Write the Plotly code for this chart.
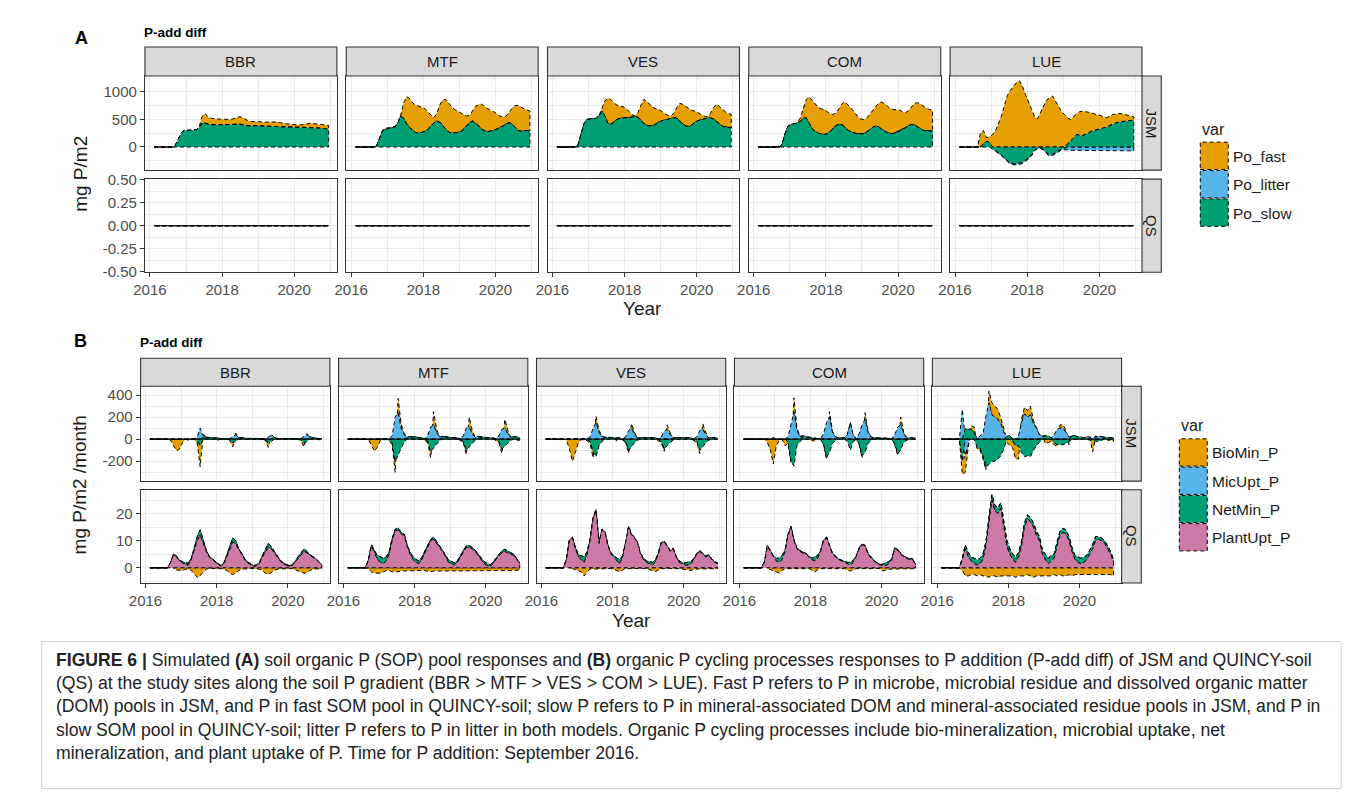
import plotly.graph_objects as go
import pandas as pd

W, H = 1355, 796
FONT = "Liberation Sans, Arial, sans-serif"

# ---------------- time axis (mid-month, Feb 2016 .. Dec 2020) ----------------
MONTHS = [d.strftime("%Y-%m-%d") for d in
          (pd.date_range("2016-02-01", "2020-12-01", freq="MS") + pd.Timedelta(days=14))]
SITES = ["BBR", "MTF", "VES", "COM", "LUE"]
MODELS = ["JSM", "QS"]
X_TICKS = ["2016-01-01", "2018-01-01", "2020-01-01"]
X_TICKTEXT = ["2016", "2018", "2020"]
X_MINOR = ["2015-01-01", "2017-01-01", "2019-01-01", "2021-01-01"]

A_VARS = ["Po_fast", "Po_litter", "Po_slow"]
B_VARS = ["BioMin_P", "MicUpt_P", "NetMin_P", "PlantUpt_P"]
COLORS = {"Po_fast": "#E69F00", "Po_litter": "#56B4E9", "Po_slow": "#009E73",
          "BioMin_P": "#E69F00", "MicUpt_P": "#56B4E9", "NetMin_P": "#009E73",
          "PlantUpt_P": "#CC79A7"}

ZERO = [0, 0, 0, 0, 0, 0, 0, 0, 0, 0, 0,
        0, 0, 0, 0, 0, 0, 0, 0, 0, 0, 0, 0,
        0, 0, 0, 0, 0, 0, 0, 0, 0, 0, 0, 0,
        0, 0, 0, 0, 0, 0, 0, 0, 0, 0, 0, 0,
        0, 0, 0, 0, 0, 0, 0, 0, 0, 0, 0, 0]

# ---------------- Panel A : soil organic P pools (mg P/m2), JSM ----------------
A_BBR_fast = [0, 0, 0, 0, 0, 0, 0, 0, 0, 0, 0,
              0, 0, 0, 0, 20, 130, 170, 130, 120, 120, 115, 105,
              100, 95, 90, 95, 110, 130, 135, 110, 95, 85, 80, 75,
              75, 75, 75, 75, 85, 90, 85, 75, 65, 60, 55, 50,
              45, 45, 50, 60, 75, 80, 75, 70, 70, 70, 75, 70]
A_BBR_slow = [0, 0, 0, 0, 0, 0, 0, 30, 150, 260, 300,
              300, 300, 300, 310, 350, 440, 430, 410, 400, 400, 395, 400,
              400, 405, 410, 410, 410, 415, 410, 395, 385, 380, 385, 385,
              380, 380, 375, 375, 370, 370, 370, 365, 360, 360, 360, 360,
              355, 355, 355, 355, 350, 350, 350, 345, 340, 340, 330, 320]
A_MTF_fast = [0, 0, 0, 0, 0, 0, 0, 0, 0, 10, 20,
              20, 20, 10, 0, 10, 280, 495, 530, 500, 500, 490, 470,
              420, 320, 200, 100, 130, 310, 460, 546, 530, 470, 425, 385,
              340, 260, 180, 140, 180, 310, 390, 455, 440, 410, 375, 340,
              280, 210, 170, 140, 180, 280, 390, 456, 435, 400, 370, 360]
A_MTF_slow = [0, 0, 0, 0, 0, 0, 0, 20, 150, 300, 320,
              330, 340, 360, 420, 560, 520, 420, 350, 300, 260, 250, 260,
              280, 320, 380, 430, 470, 450, 390, 320, 270, 250, 255, 265,
              280, 320, 380, 440, 470, 430, 380, 320, 290, 280, 285, 300,
              320, 350, 380, 420, 440, 420, 360, 300, 285, 290, 300, 290]
A_VES_fast = [0, 0, 0, 0, 0, 0, 0, 0, 0, 0, 0,
              0, 0, 0, 0, 50, 280, 455, 450, 350, 260, 220, 202,
              170, 110, 50, 1, 80, 280, 446, 430, 380, 335, 270, 223,
              160, 110, 70, 51, 90, 200, 323, 360, 350, 324, 260, 203,
              140, 90, 50, 29, 70, 190, 305, 320, 300, 280, 260, 244]
A_VES_slow = [0, 0, 0, 0, 0, 0, 0, 30, 200, 420, 500,
              510, 510, 520, 560, 650, 560, 430, 410, 450, 500, 520, 530,
              530, 530, 540, 560, 540, 480, 420, 390, 380, 385, 420, 460,
              480, 490, 500, 510, 530, 520, 470, 410, 380, 366, 400, 450,
              480, 500, 510, 520, 530, 510, 470, 420, 380, 360, 350, 348]
A_COM_fast = [0, 0, 0, 0, 0, 0, 0, 0, 0, 0, 0,
              0, 0, 10, 60, 180, 330, 489, 520, 500, 470, 455, 457,
              400, 320, 252, 230, 291, 390, 467, 460, 430, 390, 320, 275,
              260, 250, 270, 300, 342, 420, 487, 500, 480, 455, 436, 411,
              381, 320, 270, 280, 321, 390, 435, 450, 440, 410, 393, 384]
A_COM_slow = [0, 0, 0, 0, 0, 0, 0, 0, 50, 250, 380,
              409, 420, 430, 460, 520, 530, 420, 330, 280, 250, 235, 226,
              240, 280, 340, 390, 409, 400, 350, 300, 270, 250, 240, 235,
              240, 270, 310, 350, 378, 370, 330, 290, 260, 245, 244, 260,
              290, 320, 350, 380, 409, 400, 370, 330, 300, 290, 287, 287]
A_LUE_fast = [0, 0, 0, 0, 0, 0, 0, 256, 240, 70, 100,
              226, 300, 420, 560, 750, 940, 1030, 1110, 1170, 1202, 1100, 950,
              820, 660, 560, 510, 620, 740, 850, 890, 927, 830, 740, 640,
              590, 470, 396, 400, 374, 420, 446, 410, 374, 333, 300, 272,
              230, 192, 171, 170, 170, 161, 160, 145, 120, 95, 70, 61]
A_LUE_litter = [0, 0, 0, 0, 0, 0, 0, 0, 0, 0, 0,
                -5, -10, -10, -15, -15, -20, -20, -20, -20, -20, -20, -20,
                -20, -15, -10, -10, -10, -15, -20, -25, -25, -20, -20, -20,
                -30, -50, -60, -65, -70, -70, -70, -70, -70, -70, -70, -70,
                -70, -70, -70, -70, -70, -70, -70, -70, -70, -70, -70, -70]
A_LUE_slow = [0, 0, 0, 0, 0, 0, 0, 0, 60, 100, 80,
              -30, -70, -100, -140, -200, -250, -290, -305, -300, -295, -280, -232,
              -200, -140, -60, -20, -18, -40, -100, -140, -130, -110, -70, -30,
              -18, 60, 104, 160, 226, 220, 207, 230, 260, 287, 300, 320,
              340, 348, 360, 390, 420, 439, 450, 460, 470, 475, 485, 488]

# ---------------- Panel B : organic P cycling (mg P/m2 /month) ----------------
B_BBR_JSM_bio = [0, 0, 0, 0, 0, 0, 0, -10, -60, -105, -90,
                 -30, 0, -10, 0, 0, -20, -190, 10, 5, 0, -5, 0,
                 -10, 0, 0, 0, -5, -40, 15, 0, 5, 0, 0, 0,
                 0, 0, 0, 0, -5, -40, 10, 0, 0, 0, 0, 0,
                 0, 0, 0, 0, -5, -35, 10, 0, 5, 0, -5, -5]
B_BBR_JSM_mic = [0, 0, 0, 0, 0, 0, 0, 0, 0, 0, 0,
                 0, 0, 0, 0, 0, 20, 100, 15, 5, 0, 0, 0,
                 0, 0, 0, 0, 5, 25, 40, 5, 0, 0, 0, 0,
                 0, 0, 0, 0, 5, 20, 35, 5, 0, 0, 0, 0,
                 0, 0, 0, 0, 5, 25, 40, 10, 0, 0, 0, 0]
B_BBR_JSM_net = [0, 0, 0, 0, 0, 0, 0, 0, 0, 0, 0,
                 0, 0, 0, 0, 0, -15, -60, 15, 15, 10, 10, 10,
                 10, 5, 5, 0, -5, -30, -20, 10, 10, 5, 5, 5,
                 5, 5, 5, 0, -5, -35, -20, 10, 5, 5, 5, 5,
                 5, 5, 5, 0, -5, -35, -20, 10, 10, 10, 10, 5]
B_MTF_JSM_bio = [0, 0, 0, 0, 0, 0, 0, -5, -50, -110, -70,
                 -10, 0, 0, -10, -20, -100, 130, 40, 10, 0, 0, 0,
                 0, -10, 0, -10, -10, -60, 120, 30, 0, 0, 0, 0,
                 0, 0, 0, -10, -10, -40, 90, 30, 0, 0, 0, 0,
                 0, 0, 0, -10, -10, -40, 80, 30, 0, 0, -10, -10]
B_MTF_JSM_mic = [0, 0, 0, 0, 0, 0, 0, 0, 0, 0, 0,
                 0, 0, 0, 5, 30, 200, 240, 100, 40, 10, 0, 0,
                 0, 0, 0, 5, 30, 110, 130, 60, 20, 5, 0, 0,
                 0, 0, 0, 5, 30, 100, 110, 50, 15, 5, 0, 0,
                 0, 0, 0, 5, 30, 90, 100, 50, 15, 5, 0, 0]
B_MTF_JSM_net = [0, 0, 0, 0, 0, 0, 0, 0, 0, 0, 0,
                 0, 0, 0, -5, -30, -200, -150, -80, -30, 10, 20, 20,
                 20, 15, 10, -5, -20, -110, -80, -40, -10, 20, 20, 15,
                 15, 10, 10, -5, -20, -100, -70, -40, -10, 20, 20, 15,
                 15, 10, 10, -5, -20, -90, -70, -40, -10, 20, 20, 10]
B_VES_JSM_bio = [0, 0, 0, 0, 0, 0, 0, -10, -90, -200, -120,
                 -30, 0, 0, -10, -20, -60, 60, 20, 10, 0, 0, 0,
                 0, -20, 0, -10, -10, -30, 40, 20, 0, 0, 0, 0,
                 0, 0, 0, -10, -10, -20, 40, 20, 0, 0, -10, 0,
                 0, 0, 0, -10, -10, -30, 50, 20, 0, 0, 0, -10]
B_VES_JSM_mic = [0, 0, 0, 0, 0, 0, 0, 0, 0, 0, 0,
                 0, 0, 0, 5, 20, 100, 150, 60, 20, 5, 0, 0,
                 0, 0, 0, 5, 20, 80, 100, 40, 10, 0, 0, 0,
                 0, 0, 0, 5, 20, 70, 90, 40, 10, 0, 0, 0,
                 0, 0, 0, 5, 20, 80, 90, 40, 10, 0, 0, 0]
B_VES_JSM_net = [0, 0, 0, 0, 0, 0, 0, 0, 0, 0, 0,
                 0, 0, 0, -5, -20, -110, -160, -60, -20, 10, 15, 15,
                 15, 10, 10, -5, -20, -100, -70, -30, -10, 15, 15, 15,
                 15, 10, 10, -5, -20, -90, -60, -30, -10, 15, 15, 15,
                 15, 10, 10, -5, -20, -100, -70, -30, -10, 15, 15, 10]
B_COM_JSM_bio = [0, 0, 0, 0, 0, 0, 0, 0, -30, -100, -225,
                 -60, -10, 0, -60, -20, -10, 130, 20, 10, 0, 0, 0,
                 -10, -20, 0, 0, -10, -20, 50, 10, 0, 0, 0, 0,
                 0, 0, 0, 0, -10, -20, 60, 10, 0, 0, 0, 0,
                 0, 0, 0, 0, -10, -20, 70, 10, 0, 0, 0, -10]
B_COM_JSM_mic = [0, 0, 0, 0, 0, 0, 0, 0, 0, 0, 10,
                 0, 0, 0, 0, 20, 150, 245, 80, 20, 10, 5, 0,
                 0, 0, 0, 5, 50, 150, 200, 60, 20, 0, 0, 0,
                 40, 150, 30, 5, 50, 130, 180, 60, 20, 0, 0, 0,
                 0, 0, 0, 5, 40, 110, 130, 50, 10, 0, 0, 0]
B_COM_JSM_net = [0, 0, 0, 0, 0, 0, 0, 0, 0, 0, 5,
                 0, 0, 0, 0, -20, -200, -245, -60, -20, 20, 20, 15,
                 10, 10, 5, -5, -40, -165, -120, -40, -10, 10, 10, 10,
                 -20, -100, -20, -5, -40, -150, -120, -40, -10, 10, 10, 10,
                 10, 10, 5, -5, -40, -130, -100, -30, -10, 10, 10, 10]
B_LUE_JSM_bio = [0, 0, 0, 0, 0, 0, 0, -120, -150, -20, 30,
                 50, -10, -20, -30, -30, 108, 110, 100, 90, 50, 20, -30,
                 -50, -60, -120, -120, 30, 60, 60, 80, 30, 0, 0, 0,
                 -40, -30, -20, -20, -20, 30, 30, 20, -30, 0, 0, -10,
                 0, 0, 0, 0, -105, 10, 0, 0, 0, -10, -10, -20]
B_LUE_JSM_mic = [0, 0, 0, 0, 0, 0, 0, 270, -150, -50, 0,
                 0, 0, 30, 50, 210, 330, 220, 200, 180, 140, 60, 10,
                 0, 0, 0, 30, 150, 230, 200, 220, 140, 100, 40, 10,
                 0, 0, 0, 40, 90, 100, 100, 60, 20, 0, 0, 0,
                 0, 0, 10, 20, 10, 20, 25, 20, 10, 0, 0, 0]
B_LUE_JSM_net = [0, 0, 0, 0, 0, 0, 0, -200, 100, 90, 90,
                 60, -80, -80, -150, -250, -230, -200, -200, -180, -150, -90, 20,
                 30, -20, -60, -60, -120, -160, -150, -160, -100, -60, -30, 20,
                 30, 30, 10, -30, -50, -50, -50, -40, -20, 30, 30, 20,
                 20, 10, 10, -10, -10, -20, -20, -10, 10, 15, 15, 10]

B_BBR_QS_plant = [0, 0, 0, 0, 0, 0, 0, 2, 4.8, 4, 2.5,
                  1.8, 1.2, 1.0, 3, 6.5, 10, 12, 9, 6, 4, 3, 2,
                  1.2, 0.5, 1.5, 4, 7, 9.5, 9, 6.5, 5, 3, 1.8, 1,
                  0.5, 0.8, 1.5, 4, 5.5, 7.5, 7, 5.5, 4, 2.5, 1.5, 1,
                  0.5, 0.8, 2, 3.5, 4.5, 6, 5.5, 4.5, 3.8, 3.2, 2, 1]
B_BBR_QS_net = [0, 0, 0, 0, 0, 0, 0, 0, 0.3, 0.3, 0.2,
                0.5, 0.5, 0.8, 0.5, 0.5, 1.5, 2, 1, 0.5, 0.3, 0.3, 0.3,
                0.3, 0.3, 0.3, 0.5, 1, 1.5, 1, 0.5, 0.3, 0.3, 0.3, 0.3,
                0.3, 0.3, 0.3, 0.5, 1, 1.5, 0.8, 0.5, 0.3, 0.3, 0.3, 0.3,
                0.3, 0.3, 0.3, 0.5, 0.8, 1, 0.5, 0.3, 0.3, 0.2, 0.2, 0.2]
B_BBR_QS_bio = [0, 0, 0, 0, 0, 0, 0, 0, -0.3, -0.8, -1,
                -1, -0.5, -0.5, -1, -2, -3.5, -3, -1.5, -0.5, -0.3, -0.3, -0.2,
                -0.3, -0.3, -0.5, -1, -2, -2.5, -2, -1, -0.5, -0.3, -0.3, -0.3,
                -0.3, -0.3, -0.5, -1, -2, -2.5, -1.8, -1, -0.5, -0.3, -0.3, -0.3,
                -0.3, -0.3, -0.5, -1, -1.5, -2, -1.8, -1, -0.5, -0.3, -0.3, -0.3]
B_MTF_QS_plant = [0, 0, 0, 0, 0, 0, 0, 3, 8, 5.5, 3,
                  2, 1.5, 2.5, 5, 10, 13.5, 14, 12.5, 12, 8, 5, 3,
                  2, 1.5, 3, 5.5, 8, 10, 10.5, 9, 7.5, 6, 4, 2,
                  1.5, 1, 2, 4, 6, 7.5, 7.5, 7, 6, 4.5, 3, 1.5,
                  0.8, 0.5, 1.5, 3, 4.5, 5.5, 6, 5.5, 5, 4.5, 3, 1.5]
B_MTF_QS_net = [0, 0, 0, 0, 0, 0, 0, 0.2, 0.5, 0.8, 1.5,
                2, 2, 1.5, 1, 0.8, 0.7, 0.7, 0.5, 0.5, 0.5, 0.8, 1,
                1, 1, 0.8, 0.5, 0.5, 0.5, 0.8, 0.5, 0.5, 0.5, 0.5, 0.8,
                0.8, 0.8, 0.5, 0.5, 0.5, 0.5, 0.8, 0.5, 0.5, 0.5, 0.5, 0.8,
                0.8, 0.5, 0.5, 0.5, 0.5, 0.8, 0.8, 0.5, 0.5, 0.5, 0.3, 0.3]
B_MTF_QS_bio = [0, 0, 0, 0, 0, 0, 0, -0.5, -1.5, -2, -2,
                -2, -1.5, -1, -1, -1.5, -1.5, -1.5, -1.2, -1, -1, -1, -1,
                -1, -1, -1, -1, -1.2, -1.5, -1.2, -1, -1, -1, -1, -1,
                -1, -1, -1, -1, -1.2, -1.2, -1, -1, -1, -1, -1, -1,
                -1, -1, -1, -1, -1, -1, -1, -1, -1, -1, -1, -0.8]
B_VES_QS_plant = [0, 0, 0, 0, 0, 0, 0, 3, 10, 11, 7,
                  4, 3, 2, 5, 10, 18, 21, 9, 14, 13, 8, 5,
                  4, 2.5, 1.5, 4, 9, 15, 12, 11, 9, 5, 3, 2,
                  1.5, 1, 2, 5, 9, 9.5, 8, 6, 7, 4, 2, 1.5,
                  1, 1, 1.5, 3, 5, 6, 5, 4, 4.5, 3, 2, 1.5]
B_VES_QS_net = [0, 0, 0, 0, 0, 0, 0, 0.2, 0.3, 0.3, 0.5,
                0.8, 1.5, 2, 1, 0.5, 0.5, 0.5, 0.3, 0.3, 0.3, 0.3, 0.5,
                0.5, 1, 1.5, 0.5, 0.3, 0.3, 0.3, 0.3, 0.3, 0.3, 0.5, 0.5,
                0.8, 1, 0.8, 0.3, 0.3, 0.3, 0.3, 0.3, 0.3, 0.3, 0.5, 0.5,
                0.8, 1, 0.8, 0.3, 0.3, 0.3, 0.3, 0.3, 0.3, 0.3, 0.3, 0.3]
B_VES_QS_bio = [0, 0, 0, 0, 0, 0, 0, 0, -0.3, -0.3, -0.5,
                -1, -1.5, -3, -1.5, -0.5, -0.3, -0.3, -0.3, -0.3, -0.3, -0.3, -0.3,
                -0.5, -1, -1.5, -0.8, -0.3, -0.3, -0.3, -0.3, -0.3, -0.3, -0.3, -0.3,
                -0.5, -1, -1.5, -0.8, -0.3, -0.3, -0.3, -0.3, -0.3, -0.3, -0.3, -0.3,
                -0.5, -0.8, -1, -0.5, -0.3, -0.3, -0.3, -0.3, -0.3, -0.3, -0.3, -0.3]
B_COM_QS_plant = [0, 0, 0, 0, 0, 0, 0, 2, 8, 6, 4,
                  2.5, 2, 3, 6, 12, 15, 10, 7, 6, 5.5, 5, 4,
                  3, 2.5, 3.5, 6, 10, 11, 8, 5, 4, 3, 2.5, 2,
                  1.5, 1, 2, 4, 7, 8.5, 8, 5, 3.5, 2.5, 1.5, 1,
                  0.8, 0.8, 1.5, 3, 7, 6.5, 5, 4, 3.5, 3, 3, 1]
B_COM_QS_net = [0, 0, 0, 0, 0, 0, 0, 0.2, 0.3, 0.3, 0.5,
                1, 1.5, 1.5, 0.5, 0.3, 0.3, 0.3, 0.3, 0.3, 0.3, 0.3, 0.3,
                0.5, 1.5, 1, 0.3, 0.3, 0.3, 0.3, 0.3, 0.3, 0.3, 0.3, 0.3,
                0.5, 1, 0.8, 0.3, 0.3, 0.3, 0.3, 0.3, 0.3, 0.3, 0.3, 0.3,
                0.5, 1, 0.8, 0.3, 0.3, 0.3, 0.3, 0.3, 0.3, 0.3, 0.3, 0.3]
B_COM_QS_bio = [0, 0, 0, 0, 0, 0, 0, 0, -0.3, -0.5, -1,
                -1.5, -2, -1, -0.3, -0.3, -0.3, -0.3, -0.3, -0.3, -0.3, -0.3, -0.3,
                -0.8, -1.5, -0.8, -0.3, -0.3, -0.3, -0.3, -0.3, -0.3, -0.3, -0.3, -0.3,
                -0.8, -1.2, -0.8, -0.3, -0.3, -0.3, -0.3, -0.3, -0.3, -0.3, -0.3, -0.3,
                -1.2, -0.8, -0.5, -0.3, -0.3, -0.3, -0.3, -0.3, -0.3, -0.3, -0.3, -0.3]
B_LUE_QS_plant = [0, 0, 0, 0, 0, 0, 0, 3, 7, 4, 2.5,
                  1.5, 1, 1.5, 3, 8, 16, 25, 21, 20, 22, 15, 8,
                  5, 3, 2, 4, 8, 15, 18, 17, 15, 12, 10, 5,
                  3, 1.5, 2.5, 3.5, 8, 12, 13, 12.5, 10, 6, 3, 2,
                  1.5, 2, 3, 5, 7, 10, 10.5, 10, 9, 7, 5, 2]
B_LUE_QS_net = [0, 0, 0, 0, 0, 0, 0, 0.5, 1.5, 1.5, 1.5,
                2, 2, 2, 2, 1.5, 1.5, 2, 2, 2, 2, 2, 2,
                2, 2, 2, 1.5, 1.5, 1.5, 1.5, 1.5, 1.5, 1.5, 1.5, 1.5,
                2, 2, 2, 1.5, 1.5, 1.5, 1.5, 1.5, 1.5, 1.5, 1.5, 2,
                2, 2, 1.5, 1.5, 1.5, 1.5, 1, 1, 1, 1, 1, 1]
B_LUE_QS_bio = [0, 0, 0, 0, 0, 0, 0, -1, -3, -3, -2.5,
                -2.5, -3, -2.5, -3, -3, -3.5, -3, -3, -3.5, -3, -3, -3,
                -3, -3, -3.5, -3, -3, -3, -2.5, -3, -3.5, -3, -3, -3,
                -3, -3, -3, -2.5, -3, -2.5, -3, -3, -2.5, -3, -2.5, -2.5,
                -2.5, -2.5, -2.5, -2.5, -2.5, -2.5, -2.5, -2.5, -2.5, -2.5, -2.5, -3]

A_DATA = {
    ("JSM", "BBR"): {"Po_fast": A_BBR_fast, "Po_litter": ZERO, "Po_slow": A_BBR_slow},
    ("JSM", "MTF"): {"Po_fast": A_MTF_fast, "Po_litter": ZERO, "Po_slow": A_MTF_slow},
    ("JSM", "VES"): {"Po_fast": A_VES_fast, "Po_litter": ZERO, "Po_slow": A_VES_slow},
    ("JSM", "COM"): {"Po_fast": A_COM_fast, "Po_litter": ZERO, "Po_slow": A_COM_slow},
    ("JSM", "LUE"): {"Po_fast": A_LUE_fast, "Po_litter": A_LUE_litter, "Po_slow": A_LUE_slow},
}
for s in SITES:
    A_DATA[("QS", s)] = {"Po_fast": ZERO, "Po_litter": ZERO, "Po_slow": ZERO}

B_DATA = {
    ("JSM", "BBR"): {"BioMin_P": B_BBR_JSM_bio, "MicUpt_P": B_BBR_JSM_mic, "NetMin_P": B_BBR_JSM_net, "PlantUpt_P": ZERO},
    ("JSM", "MTF"): {"BioMin_P": B_MTF_JSM_bio, "MicUpt_P": B_MTF_JSM_mic, "NetMin_P": B_MTF_JSM_net, "PlantUpt_P": ZERO},
    ("JSM", "VES"): {"BioMin_P": B_VES_JSM_bio, "MicUpt_P": B_VES_JSM_mic, "NetMin_P": B_VES_JSM_net, "PlantUpt_P": ZERO},
    ("JSM", "COM"): {"BioMin_P": B_COM_JSM_bio, "MicUpt_P": B_COM_JSM_mic, "NetMin_P": B_COM_JSM_net, "PlantUpt_P": ZERO},
    ("JSM", "LUE"): {"BioMin_P": B_LUE_JSM_bio, "MicUpt_P": B_LUE_JSM_mic, "NetMin_P": B_LUE_JSM_net, "PlantUpt_P": ZERO},
    ("QS", "BBR"): {"BioMin_P": B_BBR_QS_bio, "MicUpt_P": ZERO, "NetMin_P": B_BBR_QS_net, "PlantUpt_P": B_BBR_QS_plant},
    ("QS", "MTF"): {"BioMin_P": B_MTF_QS_bio, "MicUpt_P": ZERO, "NetMin_P": B_MTF_QS_net, "PlantUpt_P": B_MTF_QS_plant},
    ("QS", "VES"): {"BioMin_P": B_VES_QS_bio, "MicUpt_P": ZERO, "NetMin_P": B_VES_QS_net, "PlantUpt_P": B_VES_QS_plant},
    ("QS", "COM"): {"BioMin_P": B_COM_QS_bio, "MicUpt_P": ZERO, "NetMin_P": B_COM_QS_net, "PlantUpt_P": B_COM_QS_plant},
    ("QS", "LUE"): {"BioMin_P": B_LUE_QS_bio, "MicUpt_P": ZERO, "NetMin_P": B_LUE_QS_net, "PlantUpt_P": B_LUE_QS_plant},
}
for dd in (A_DATA, B_DATA):
    for k, v in dd.items():
        for name, arr in v.items():
            assert len(arr) == len(MONTHS), (k, name, len(arr))

CAPTION = [
    "<b>FIGURE 6 |</b> Simulated <b>(A)</b> soil organic P (SOP) pool responses and <b>(B)</b> organic P cycling processes responses to P addition (P-add diff) of JSM and QUINCY-soil",
    "(QS) at the study sites along the soil P gradient (BBR &gt; MTF &gt; VES &gt; COM &gt; LUE). Fast P refers to P in microbe, microbial residue and dissolved organic matter",
    "(DOM) pools in JSM, and P in fast SOM pool in QUINCY-soil; slow P refers to P in mineral-associated DOM and mineral-associated residue pools in JSM, and P in",
    "slow SOM pool in QUINCY-soil; litter P refers to P in litter in both models. Organic P cycling processes include bio-mineralization, microbial uptake, net",
    "mineralization, and plant uptake of P. Time for P addition: September 2016.",
]

# ---------------- geometry (target pixels -> paper) ----------------
SX, OX = 0.9915, 18.3
SY, OY = 0.981, 16.7


def fx(x):
    return ((x - OX) / SX) / W


def fy(y):
    return 1 - ((y - OY) / SY) / H


PANELS = {
    "A": dict(lefts=[143.3 + 201.35 * c for c in range(5)], width=192.0,
              rows=[(76.7, 171.0), (180.0, 273.3)], strip_top=47.7, rstrip=(1140.7, 1160.0),
              yranges=[[-420, 1290], [-0.505, 0.505]],
              yticks=[([0, 500, 1000], ["0", "500", "1000"], [-250, 250, 750, 1250]),
                      ([-0.5, -0.25, 0, 0.25, 0.5], ["-0.50", "-0.25", "0.00", "0.25", "0.50"],
                       [-0.375, -0.125, 0.125, 0.375])],
              vars=A_VARS, data=A_DATA, base=0),
    "B": dict(lefts=[139.0 + 198.0 * c for c in range(5)], width=189.3,
              rows=[(387.3, 482.3), (491.0, 584.3)], strip_top=359.3, rstrip=(1120.3, 1140.0),
              yranges=[[-380, 480], [-5.6, 28.8]],
              yticks=[([-200, 0, 200, 400], ["-200", "0", "200", "400"], [-300, -100, 100, 300]),
                      ([0, 10, 20], ["0", "10", "20"], [-5, 5, 15, 25])],
              vars=B_VARS, data=B_DATA, base=10),
}
X_RANGE = ["2015-11-12", "2021-03-08"]


def stack(vals, levels):
    """ggplot2-style position_stack: first level on top, negatives stacked separately."""
    n = len(MONTHS)
    pos = [0.0] * n
    neg = [0.0] * n
    out = {}
    for name in reversed(levels):
        v = vals[name]
        lo, hi = [], []
        for i in range(n):
            if v[i] >= 0:
                lo.append(pos[i]); hi.append(pos[i] + v[i]); pos[i] += v[i]
            else:
                hi.append(neg[i]); lo.append(neg[i] + v[i]); neg[i] += v[i]
        out[name] = (lo, hi)
    return out


fig = go.Figure()
layout = dict(width=W, height=H, margin=dict(l=0, r=0, t=0, b=0),
              paper_bgcolor="white", plot_bgcolor="white", showlegend=False,
              font=dict(family=FONT, color="#333333"))
shapes, annotations = [], []
GRID = "#EBEBEB"
LINE = "#333333"
TICKFONT = dict(family=FONT, size=15, color="#4D4D4D")

for key, P in PANELS.items():
    for r, model in enumerate(MODELS):
        top, bot = P["rows"][r]
        for c, site in enumerate(SITES):
            n = P["base"] + r * 5 + c + 1
            xa, ya = f"xaxis{n}", f"yaxis{n}"
            left = P["lefts"][c]
            right = left + P["width"]
            bottom_row = (r == 1)
            left_col = (c == 0)
            layout[xa] = dict(
                domain=[fx(left), fx(right)], anchor=f"y{n}", type="date", range=X_RANGE,
                tickmode="array", tickvals=X_TICKS, ticktext=X_TICKTEXT,
                showticklabels=bottom_row, ticks="outside" if bottom_row else "",
                ticklen=4, tickwidth=1, tickcolor=LINE, tickfont=TICKFONT,
                showgrid=True, gridcolor=GRID, gridwidth=1.1,
                minor=dict(tickmode="array", tickvals=X_MINOR, showgrid=True,
                           gridcolor=GRID, gridwidth=0.6, ticks=""),
                showline=True, mirror=True, linecolor=LINE, linewidth=1.1, zeroline=False)
            tv, tt, mv = P["yticks"][r]
            layout[ya] = dict(
                domain=[fy(bot), fy(top)], anchor=f"x{n}", range=P["yranges"][r],
                tickmode="array", tickvals=tv, ticktext=tt,
                showticklabels=left_col, ticks="outside" if left_col else "",
                ticklen=4, tickwidth=1, tickcolor=LINE, tickfont=TICKFONT,
                showgrid=True, gridcolor=GRID, gridwidth=1.1,
                minor=dict(tickmode="array", tickvals=mv, showgrid=True,
                           gridcolor=GRID, gridwidth=0.6, ticks=""),
                showline=True, mirror=True, linecolor=LINE, linewidth=1.1, zeroline=False)

            vals = P["data"][(model, site)]
            st = stack(vals, P["vars"])
            for name in P["vars"]:
                lo, hi = st[name]
                xs = MONTHS + MONTHS[::-1] + [MONTHS[0]]
                ys = hi + lo[::-1] + [hi[0]]
                fig.add_trace(go.Scatter(
                    x=xs, y=ys, mode="lines", fill="toself", fillcolor=COLORS[name],
                    line=dict(color="black", width=1, dash="4px,3px"),
                    name=name, hoverinfo="skip", showlegend=False,
                    xaxis=f"x{n}", yaxis=f"y{n}"))
            # where every series is zero the overlapping dashed outlines read as one solid line
            zx, zy = [], []
            for i, m in enumerate(MONTHS):
                if all(vals[nm][i] == 0 for nm in P["vars"]):
                    zx.append(m); zy.append(0)
                else:
                    zx.append(None); zy.append(None)
            fig.add_trace(go.Scatter(x=zx, y=zy, mode="lines", line=dict(color="black", width=1),
                                     hoverinfo="skip", showlegend=False, connectgaps=False,
                                     xaxis=f"x{n}", yaxis=f"y{n}"))

            # top strips
            if r == 0:
                shapes.append(dict(type="rect", xref="paper", yref="paper",
                                   x0=fx(left), x1=fx(right), y0=fy(top), y1=fy(P["strip_top"]),
                                   fillcolor="#D9D9D9", line=dict(color=LINE, width=1.1), layer="above"))
                annotations.append(dict(xref="paper", yref="paper", x=fx((left + right) / 2),
                                        y=fy((top + P["strip_top"]) / 2), text=site, showarrow=False,
                                        font=dict(family=FONT, size=15, color="#1A1A1A"),
                                        xanchor="center", yanchor="middle"))
        # right strips
        x0, x1 = P["rstrip"]
        shapes.append(dict(type="rect", xref="paper", yref="paper",
                           x0=fx(x0), x1=fx(x1), y0=fy(bot), y1=fy(top),
                           fillcolor="#D9D9D9", line=dict(color=LINE, width=1.1), layer="above"))
        annotations.append(dict(xref="paper", yref="paper", x=fx((x0 + x1) / 2), y=fy((top + bot) / 2),
                                text=model, textangle=90, showarrow=False,
                                font=dict(family=FONT, size=15, color="#1A1A1A"),
                                xanchor="center", yanchor="middle"))


# ---------------- titles, axis titles ----------------
def ann(x, y, text, size, bold=False, angle=0, xanchor="center", color="#1A1A1A"):
    annotations.append(dict(xref="paper", yref="paper", x=fx(x), y=fy(y),
                            text=f"<b>{text}</b>" if bold else text, textangle=angle,
                            showarrow=False, xanchor=xanchor, yanchor="middle",
                            font=dict(family=FONT, size=size, color=color)))


ann(71, 39, "A", 18, bold=True, xanchor="left", color="#000000")
ann(140, 33, "P-add diff", 13.5, bold=True, xanchor="left", color="#000000")
ann(70, 342, "B", 18, bold=True, xanchor="left", color="#000000")
ann(136, 344, "P-add diff", 13.5, bold=True, xanchor="left", color="#000000")
ann(78, 175, "mg P/m2", 19, angle=-90)
ann(641, 310, "Year", 19)
ann(78, 486, "mg P/m2 /month", 19, angle=-90)
ann(630, 622, "Year", 19)


# ---------------- legends ----------------
def legend(x, title_y, top, key_h, names):
    ann(x, title_y, "var", 16, xanchor="left")
    for i, name in enumerate(names):
        y0 = top + i * key_h
        shapes.append(dict(type="rect", xref="paper", yref="paper",
                           x0=fx(x), x1=fx(x + 28), y0=fy(y0 + key_h - 1), y1=fy(y0),
                           fillcolor=COLORS[name], line=dict(color="black", width=1, dash="4px,3px")))
        ann(x + 31, y0 + key_h / 2, name, 15.5, xanchor="left")


legend(1199, 130, 143, 28.4, A_VARS)
legend(1178, 427, 440, 28.3, B_VARS)

# ---------------- caption ----------------
shapes.append(dict(type="rect", xref="paper", yref="paper", x0=fx(40), x1=fx(1340),
                   y0=fy(790), y1=fy(643), line=dict(color="#D0D0D0", width=1), fillcolor="rgba(0,0,0,0)"))
for i, line in enumerate(CAPTION):
    annotations.append(dict(xref="paper", yref="paper", x=fx(52), y=fy(661 + i * 23.4), text=line,
                            showarrow=False, xanchor="left", yanchor="middle",
                            font=dict(family=FONT, size=17.6, color="#222222")))

layout["shapes"] = shapes
layout["annotations"] = annotations
fig.update_layout(**layout)
fig.write_html("out.html")
